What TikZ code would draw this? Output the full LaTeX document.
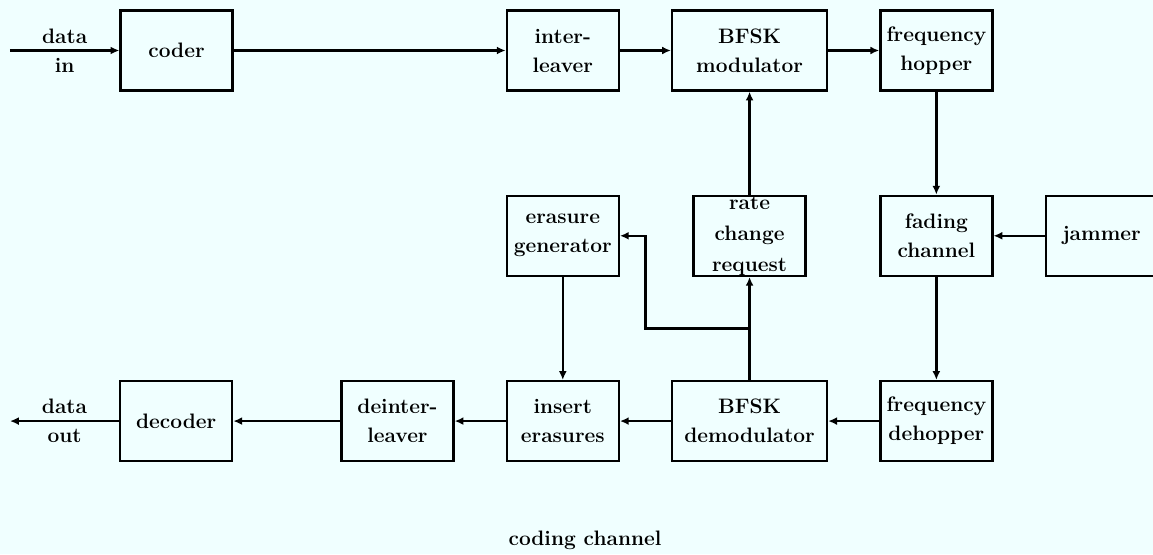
\documentclass[tikz,border=0pt]{standalone}
\usepackage{tikz}
\usepackage{xcolor}
\usetikzlibrary{positioning,calc,arrows.meta}
\definecolor{paper}{RGB}{240,255,255}

\begin{document}
\begin{tikzpicture}[
    font=\fontsize{11.9}{16.5}\selectfont\bfseries,
    node distance=2.06cm,
    box/.style={draw, line width=1.3pt, align=center, minimum width=2.24cm, minimum height=1.6cm, inner xsep=2pt},
    widebox/.style={box, minimum width=3.1cm},
    arrow/.style={-{Latex[length=5pt,width=4.5pt]}, line width=1.3pt}
  ]
    \fill[paper] (0,0) rectangle (23.06,-11.08);
    \useasboundingbox (0,0) rectangle (23.06,-11.08);

    % transmitter
    \node[box] (coder) at (3.53,-1.01) {coder};
    \node[box, right=5.44cm of coder] (interleaver) {inter-\\leaver};
    \node[widebox, right=1.02cm of interleaver] (modulator) {BFSK\\modulator};
    \node[box, right=1.02cm of modulator] (hopper) {frequency\\hopper};

    % channel and feedback
    \node[box, below=of hopper] (fading) {fading\\channel};
    \node[box, right=1.02cm of fading] (jammer) {jammer};
    \node[box, below=of modulator, inner ysep=-3pt] (rate) {rate\\[1pt]change\\[1pt]request};
    \node[box, below=of interleaver] (erasure) {erasure\\generator};

    % receiver
    \node[box, below=of fading] (dehopper) {frequency\\dehopper};
    \node[widebox, below=of rate] (demod) {BFSK\\demodulator};
    \node[box, below=of erasure] (insert) {insert\\erasures};
    \node[box, left=1.02cm of insert] (deinterleaver) {deinter-\\leaver};
    \node[box, left=2.14cm of deinterleaver] (decoder) {decoder};

    \coordinate (din) at (0.2,-1.01);
    \coordinate (dout) at (decoder.west -| din);
    \coordinate (branch) at ($(demod.north)!0.5!(rate.south)$);

    \draw[arrow] (din) -- node[align=center] (datain) {data\\in} (coder);
    \draw[arrow] (coder) -- (interleaver);
    \draw[arrow] (interleaver) -- (modulator);
    \draw[arrow] (modulator) -- (hopper);
    \draw[arrow] (hopper) -- (fading);
    \draw[arrow] (jammer) -- (fading);
    \draw[arrow] (fading) -- (dehopper);
    \draw[arrow] (dehopper) -- (demod);
    \draw[arrow] (demod) -- (insert);
    \draw[arrow] (insert) -- (deinterleaver);
    \draw[arrow] (deinterleaver) -- (decoder);
    \draw[arrow] (decoder) -- node[align=center] (dataout) {data\\out} (dout);
    \draw[arrow] (demod) -- (rate);
    \draw[arrow] (rate) -- (modulator);
    \draw[arrow] (branch) -- ++(-2.08,0) |- (erasure);
    \draw[arrow] (erasure) -- (insert);

    \node (caption) at (11.7,-10.8) {coding channel};
  \end{tikzpicture}
\end{document}
